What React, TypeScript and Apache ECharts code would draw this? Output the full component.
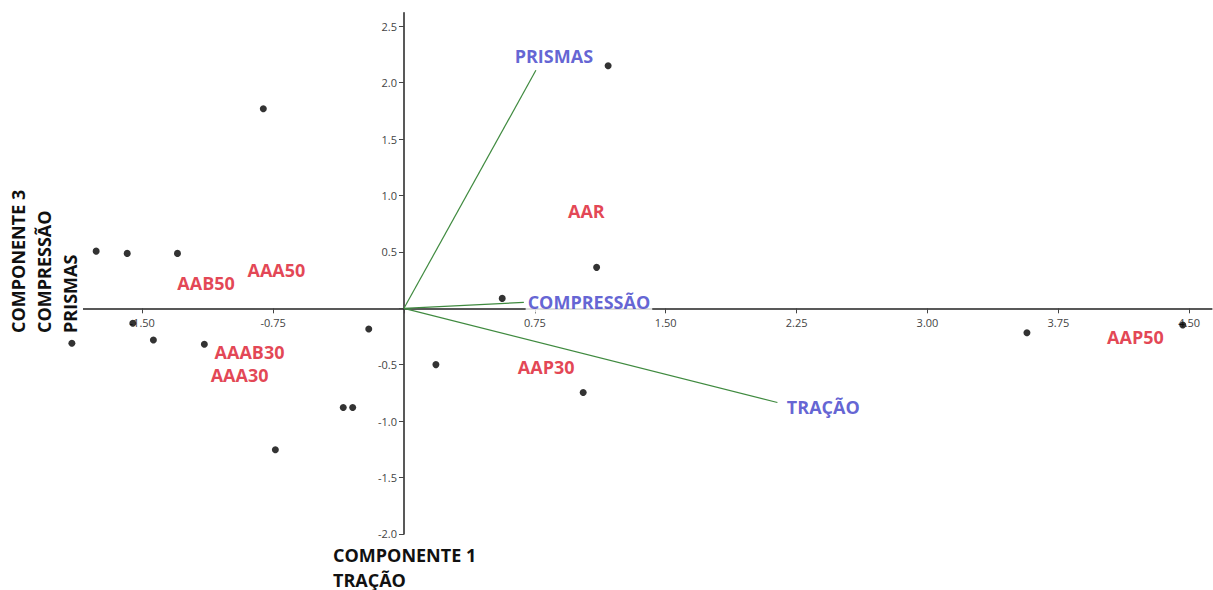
import React, { useEffect, useRef } from "react";
import * as echarts from "echarts";

// Observations (scores)
const scoreX = [-0.806, -1.764, -1.586, -1.298, -1.554, -1.903, -1.436, -1.144, -0.202, -0.348, -0.294, -0.737, 1.170, 1.104, 0.563, 0.183, 1.027, 3.570, 4.463];
const scoreY = [1.770, 0.507, 0.487, 0.487, -0.133, -0.310, -0.281, -0.319, -0.183, -0.880, -0.880, -1.254, 2.150, 0.363, 0.088, -0.499, -0.747, -0.216, -0.148];

// Loadings (vectors)
const vectorNames = ["PRISMAS", "COMPRESSÃO", "TRAÇÃO"];
const vectorX = [0.756, 0.687, 2.140];
const vectorY = [2.110, 0.053, -0.835];
const vectorLabelX = [0.859, 1.060, 2.403];
const vectorLabelY = [2.233, 0.056, -0.871];

// Group annotations
const groupNames = ["AAB50", "AAA50", "AAAB30", "AAA30", "AAR", "AAP30", "AAP50"];
const groupX = [-1.134, -0.731, -0.885, -0.942, 1.045, 0.815, 4.192];
const groupY = [0.224, 0.339, -0.385, -0.59, 0.864, -0.522, -0.251];

// Axis ticks
const xTicks = [-1.5, -0.75, 0, 0.75, 1.5, 2.25, 3, 3.75, 4.5];
const xTickLabels = [-1.5, -0.75, 0.75, 1.5, 2.25, 3, 3.75, 4.5];
const yTicks = [-2, -1.5, -1, -0.5, 0, 0.5, 1, 1.5, 2, 2.5];
const yTickLabels = [-2, -1.5, -1, -0.5, 0.5, 1, 1.5, 2, 2.5];

const X_MIN = -1.95;
const X_MAX = 4.63;
const Y_MIN = -2;
const Y_MAX = 2.62;

const GRID_LEFT = 63.7;
const GRID_RIGHT = 1.1;
const GRID_TOP = 12.8;
const GRID_BOTTOM = 56.1;
const W = 1213;
const H = 590;

const FONT = "'Open Sans', 'Noto Sans', sans-serif";
const RED = "#dc1428";
const BLUE = "#3c3cc8";
const GREEN = "#3f8a3f";

export default function App() {
  const ref = useRef<HTMLDivElement>(null);

  useEffect(() => {
    if (!ref.current) return;
    const chart = echarts.init(ref.current, undefined, { renderer: "svg" });

    const gridW = W - GRID_LEFT - GRID_RIGHT;
    const gridH = H - GRID_TOP - GRID_BOTTOM;
    // move axes so that they cross at the origin
    const xAxisOffset = -(gridH * (0 - Y_MIN)) / (Y_MAX - Y_MIN);
    const yAxisOffset = -(gridW * (0 - X_MIN)) / (X_MAX - X_MIN);

    const vectorSeries = vectorNames.map((n, i) => ({
      type: "line",
      name: n,
      data: [
        [0, 0],
        [vectorX[i], vectorY[i]],
      ],
      symbol: "none",
      lineStyle: { color: GREEN, width: 1.2 },
      z: 3,
      silent: true,
    }));

    const option: any = {
      animation: false,
      backgroundColor: "#ffffff",
      grid: {
        left: GRID_LEFT,
        right: GRID_RIGHT,
        top: GRID_TOP,
        bottom: GRID_BOTTOM,
        containLabel: false,
        outerBoundsMode: "none",
      },
      xAxis: {
        type: "value",
        position: "bottom",
        offset: xAxisOffset,
        min: X_MIN,
        max: X_MAX,
        splitLine: { show: false },
        axisLine: { onZero: false, lineStyle: { color: "#222", width: 1.5 } },
        axisTick: { show: true, length: 5, lineStyle: { color: "#444" }, customValues: xTicks },
        axisLabel: {
          customValues: xTickLabels,
          formatter: (v: number) => v.toFixed(2),
          color: "#444",
          fontSize: 11,
          fontFamily: FONT,
          margin: 9,
        },
      },
      yAxis: {
        type: "value",
        position: "left",
        offset: yAxisOffset,
        min: Y_MIN,
        max: Y_MAX,
        splitLine: { show: false },
        axisLine: { onZero: false, lineStyle: { color: "#222", width: 1.5 } },
        axisTick: { show: true, length: 5, lineStyle: { color: "#444" }, customValues: yTicks },
        axisLabel: {
          customValues: yTickLabels,
          formatter: (v: number) => v.toFixed(1),
          color: "#444",
          fontSize: 11,
          fontFamily: FONT,
          margin: 7,
        },
      },
      series: [
        ...vectorSeries,
        {
          type: "scatter",
          name: "scores",
          data: scoreX.map((x, i) => [x, scoreY[i]]),
          symbol: "circle",
          symbolSize: 7,
          itemStyle: { color: "#000" },
          z: 5,
          clip: false,
        },
        {
          type: "scatter",
          name: "groups",
          data: groupNames.map((n, i) => ({ name: n, value: [groupX[i], groupY[i]] })),
          symbolSize: 0,
          z: 6,
          silent: true,
          label: {
            show: true,
            position: "inside",
            formatter: (p: any) => p.name,
            color: RED,
            fontSize: 18,
            lineHeight: 18,
            fontWeight: "bold",
            fontFamily: FONT,
          },
        },
        {
          type: "scatter",
          name: "vectorLabels",
          data: vectorNames.map((n, i) => ({ name: n, value: [vectorLabelX[i], vectorLabelY[i]] })),
          symbolSize: 0,
          z: 6,
          silent: true,
          label: {
            show: true,
            position: "inside",
            formatter: (p: any) => p.name,
            color: BLUE,
            fontSize: 18,
            lineHeight: 19,
            fontWeight: "bold",
            fontFamily: FONT,
            backgroundColor: "#ffffff",
            padding: [1, 2],
          },
        },
      ],
      graphic: [
        {
          type: "text",
          z: 100,
          left: 333,
          top: 542,
          style: {
            text: "COMPONENTE 1\nTRAÇÃO",
            fill: "#111",
            font: `bold 18px ${FONT}`,
            lineHeight: 25,
            backgroundColor: "#fff",
          },
        },
        {
          type: "text",
          z: 100,
          x: 5,
          y: 333,
          rotation: Math.PI / 2,
          style: {
            text: "COMPONENTE 3\nCOMPRESSÃO\nPRISMAS",
            fill: "#111",
            font: `bold 18px ${FONT}`,
            lineHeight: 26,
            align: "left",
            verticalAlign: "top",
            backgroundColor: "#fff",
          },
        },
      ],
    };

    chart.setOption(option);
    return () => chart.dispose();
  }, []);

  return (
    <div
      ref={ref}
      style={{ position: "fixed", left: 0, top: 0, width: W, height: H, background: "#fff" }}
    />
  );
}
